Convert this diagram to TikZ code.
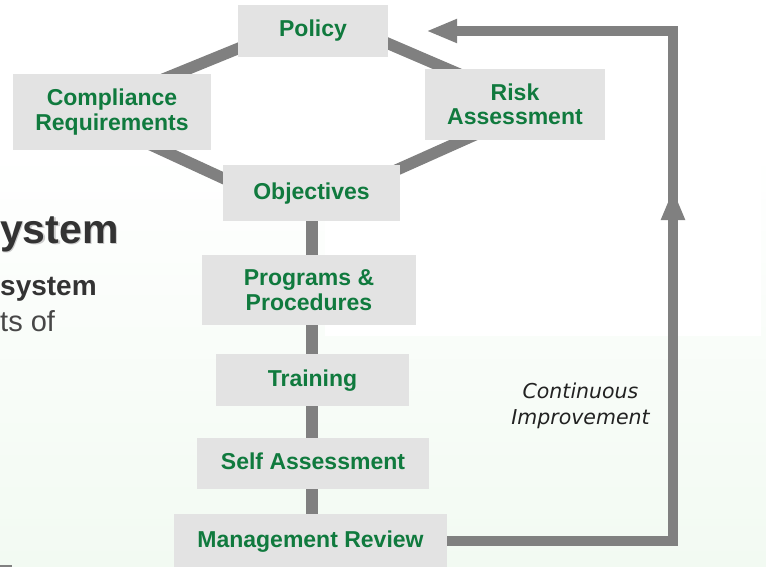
\documentclass[tikz,border=0pt]{standalone}
\usepackage{fontspec}
\setmainfont{Liberation Sans}
\newfontfamily\dvs{DejaVu Sans}
\usetikzlibrary{arrows.meta,calc,backgrounds}
\definecolor{boxgray}{HTML}{E3E3E3}
\definecolor{txtgreen}{HTML}{107A3E}
\definecolor{conngray}{HTML}{808080}
\definecolor{bggreen}{HTML}{F2FAF2}
\definecolor{darktxt}{HTML}{333333}
\definecolor{citxt}{HTML}{222222}
\begin{document}
\begin{tikzpicture}[x=1pt,y=-1pt,
  box/.style={fill=boxgray, draw=none, inner sep=0pt, align=center,
    font=\fontsize{23}{24.5}\selectfont\bfseries, text=txtgreen},
  boxone/.style={box, text height=17pt, text depth=5pt},
  conn/.style={draw=conngray, line width=12pt},
  dconn/.style={draw=conngray, line width=11.5pt},
  loopline/.style={draw=conngray, line width=10pt, line join=miter},
  loophead/.style={-{Triangle[length=31pt,width=22pt]}},
  slide/.style={inner sep=0pt, anchor=base west},
]
\useasboundingbox (0,0) rectangle (766,567);
\begin{pgfonlayer}{background}
  \fill[white] (0,0) rectangle (766,567);
  \shade[top color=white, bottom color=bggreen] (0,150) rectangle (766,567);
  \fill[white] (325,0) rectangle (761,336);
  \fill[conngray] (0,564.5) rectangle (12,567);
\end{pgfonlayer}

% slide text (left part of the slide)
\node[slide, font=\fontsize{41}{41}\selectfont\bfseries, text=gray!40] (ttlsh) at (1.5,244.5) {ystem};
\node[slide, font=\fontsize{41}{41}\selectfont\bfseries, text=darktxt] (ttl) at (0,243) {ystem};
\node[slide, font=\fontsize{28}{28}\selectfont\bfseries, text=darktxt] (subone) at (0,295) {system};
\node[slide, font=\fontsize{29}{29}\selectfont, text=darktxt!90] (subtwo) at (0,331) {ts of};

% boxes
\node[boxone, minimum width=150pt, minimum height=52pt] (pol) at (313,31) {Policy};
\node[box, minimum width=198pt, minimum height=76pt] (cmp) at (112,112) {Compliance\\Requirements};
\node[box, minimum width=180pt, minimum height=71pt] (rsk) at (515,104.5) {Risk\\Assessment};
\node[boxone, minimum width=177pt, minimum height=56pt] (obj) at (311.5,193) {Objectives};
\node[box, minimum width=214pt, minimum height=70pt] (prg) at (309,290) {Programs \&\\Procedures};
\node[boxone, minimum width=193pt, minimum height=52pt] (trn) at (312.5,380) {Training};
\node[boxone, minimum width=232pt, minimum height=51pt] (sa) at (313,463.5) {Self Assessment};
\node[boxone, minimum width=273pt, minimum height=54pt] (mr) at (310.5,541) {Management Review};

\coordinate (spine) at (312,0);
\coordinate (tr) at (673,31);
\coordinate (br) at (673,541);
\coordinate (uptip) at (673,189);

\begin{pgfonlayer}{background}
  \draw[conn] (obj.south -| spine) -- (prg.north -| spine);
  \draw[conn] (prg.south -| spine) -- (trn.north -| spine);
  \draw[conn] (trn.south -| spine) -- (sa.north -| spine);
  \draw[conn] (sa.south -| spine) -- (mr.north -| spine);
  \draw[dconn] ($(pol.center)+(0,-13)$) -- ($(cmp.center)+(0,-12)$);
  \draw[dconn] ($(cmp.center)+(0,15)$) -- ($(obj.center)+(-21.5,16)$);
  \draw[dconn] ($(pol.center)+(17,-12.4)$) -- ($(rsk.center)+(0,-6.5)$);
  \draw[dconn] ($(obj.center)+(18.5,6.7)$) -- ($(rsk.center)+(0,12.5)$);
\end{pgfonlayer}

% continuous improvement loop
\draw[loopline, loophead] (br) -- (uptip);
\draw[loopline, loophead, shorten >=38pt] (mr.east) -- (br) -- (tr) -- (pol.east |- tr);

\node[font=\dvs\itshape\fontsize{20.5}{26}\selectfont, text=citxt, align=center, inner sep=0pt] (ci) at (580.5,406) {Continuous\\Improvement};
\end{tikzpicture}
\end{document}
